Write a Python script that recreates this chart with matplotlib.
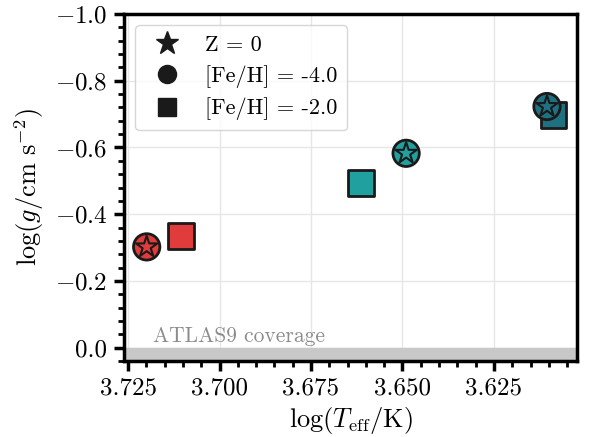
import matplotlib
matplotlib.use("Agg")
import matplotlib.pyplot as plt
from matplotlib.lines import Line2D
from matplotlib.ticker import MultipleLocator, AutoMinorLocator, FuncFormatter

plt.rcParams['font.family'] = 'serif'
plt.rcParams['font.serif'] = ['cmr10']
plt.rcParams['mathtext.fontset'] = 'cm'
plt.rcParams['axes.formatter.use_mathtext'] = True

# data
z0_teff = [3.7199, 3.6490, 3.6105]
z0_logg = [-0.302, -0.5825, -0.7227]
z0_colors = ['#e03c3c', '#21a0a0', '#1f7080']

feh4_teff = [3.7199, 3.6490, 3.6105]
feh4_logg = [-0.302, -0.5825, -0.7227]
feh4_colors = ['#e03c3c', '#21a0a0', '#1f7080']

feh2_teff = [3.7106, 3.6613, 3.6087]
feh2_logg = [-0.334, -0.494, -0.698]
feh2_colors = ['#e03c3c', '#21a0a0', '#1f7080']

legend_labels = ['Z = 0', '[Fe/H] = -4.0', '[Fe/H] = -2.0']

W, H = 589, 437
fig = plt.figure(figsize=(W / 100, H / 100), dpi=100)
L, R, T, B = 124, 577, 14, 361
ax = fig.add_axes([L / W, 1 - B / H, (R - L) / W, (B - T) / H])

ax.axhspan(0.0, 0.1, color='#c8c8c8', zorder=1)
ax.text(3.7183, -0.004, 'ATLAS9 coverage', color='#8c8c8c', fontsize=15.5,
        ha='left', va='bottom', zorder=2)

ax.scatter(feh2_teff, feh2_logg, marker='s', s=340, c=feh2_colors,
           edgecolors='#1a1a1a', linewidths=2, zorder=3)
ax.scatter(feh4_teff, feh4_logg, marker='o', s=360, c=feh4_colors,
           edgecolors='#1a1a1a', linewidths=2, zorder=4)
ax.scatter(z0_teff, z0_logg, marker='*', s=260, c=z0_colors,
           edgecolors='#1a1a1a', linewidths=1.5, zorder=5)

ax.set_xlim(3.7261, 3.6023)
ax.set_ylim(0.04, -1.0)

ax.xaxis.set_major_locator(MultipleLocator(0.025))
ax.xaxis.set_minor_locator(AutoMinorLocator(5))
ax.yaxis.set_major_locator(MultipleLocator(0.2))
ax.yaxis.set_minor_locator(AutoMinorLocator(5))
ax.xaxis.set_major_formatter(FuncFormatter(lambda v, p: f'{v:.3f}'))
ax.yaxis.set_major_formatter(FuncFormatter(
    lambda v, p: (r'$-$' if v < -1e-9 else '') + f'{abs(v):.1f}'))

ax.grid(True, which='major', color='#e6e6e6', linewidth=1, zorder=0)
ax.set_axisbelow(True)
for sp in ax.spines.values():
    sp.set_linewidth(2.5)
ax.tick_params(which='major', direction='out', length=7, width=2.5, labelsize=18, pad=5)
ax.tick_params(which='minor', direction='out', length=4, width=2)

ax.set_xlabel(r'$\log(T_\mathrm{eff}/\mathrm{K})$', fontsize=19, labelpad=4)
ax.set_ylabel(r'$\log(g/\mathrm{cm\ s^{-2}})$', fontsize=19, labelpad=6)

handles = [Line2D([], [], marker='*', color='#1a1a1a', linestyle='none', markersize=17),
           Line2D([], [], marker='o', color='#1a1a1a', linestyle='none', markersize=13),
           Line2D([], [], marker='s', color='#1a1a1a', linestyle='none', markersize=13)]
ax.legend(handles, legend_labels, loc='upper left', fontsize=16, frameon=True,
          fancybox=True, framealpha=0.8, edgecolor='#cccccc', handletextpad=0.7,
          handlelength=2.0, borderpad=0.45, labelspacing=0.45, borderaxespad=0.5)

fig.savefig('out.png', dpi=100)
